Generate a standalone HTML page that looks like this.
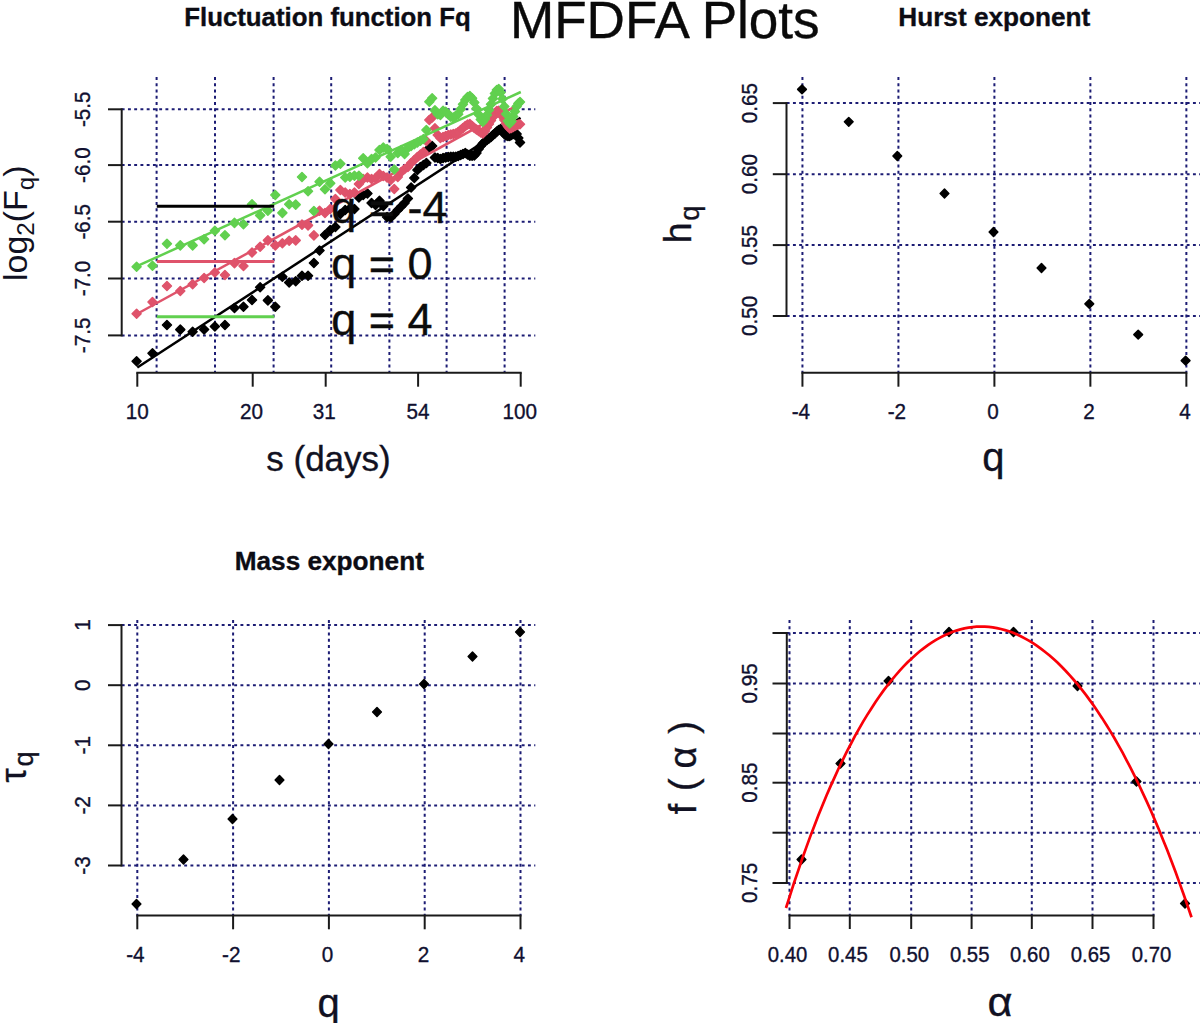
<!DOCTYPE html>
<html><head><meta charset="utf-8"><title>MFDFA Plots</title>
<style>
html,body{margin:0;padding:0;background:#fff;}
body{width:1200px;height:1023px;overflow:hidden;}
svg{display:block;font-family:"Liberation Sans",sans-serif;}
</style></head><body>
<svg width="1200" height="1023" viewBox="0 0 1200 1023">
<rect width="1200" height="1023" fill="#fff"/>
<g>
<line x1="156.60" y1="77.00" x2="156.60" y2="372.50" stroke="#1c1c74" stroke-width="2" stroke-dasharray="2.9 3.35"/>
<line x1="215.00" y1="77.00" x2="215.00" y2="372.50" stroke="#1c1c74" stroke-width="2" stroke-dasharray="2.9 3.35"/>
<line x1="273.60" y1="77.00" x2="273.60" y2="372.50" stroke="#1c1c74" stroke-width="2" stroke-dasharray="2.9 3.35"/>
<line x1="331.20" y1="77.00" x2="331.20" y2="372.50" stroke="#1c1c74" stroke-width="2" stroke-dasharray="2.9 3.35"/>
<line x1="389.40" y1="77.00" x2="389.40" y2="372.50" stroke="#1c1c74" stroke-width="2" stroke-dasharray="2.9 3.35"/>
<line x1="446.60" y1="77.00" x2="446.60" y2="372.50" stroke="#1c1c74" stroke-width="2" stroke-dasharray="2.9 3.35"/>
<line x1="504.60" y1="77.00" x2="504.60" y2="372.50" stroke="#1c1c74" stroke-width="2" stroke-dasharray="2.9 3.35"/>
<line x1="121.70" y1="109.30" x2="535.30" y2="109.30" stroke="#1c1c74" stroke-width="2" stroke-dasharray="2.9 3.35"/>
<line x1="121.70" y1="165.10" x2="535.30" y2="165.10" stroke="#1c1c74" stroke-width="2" stroke-dasharray="2.9 3.35"/>
<line x1="121.70" y1="221.70" x2="535.30" y2="221.70" stroke="#1c1c74" stroke-width="2" stroke-dasharray="2.9 3.35"/>
<line x1="121.70" y1="278.50" x2="535.30" y2="278.50" stroke="#1c1c74" stroke-width="2" stroke-dasharray="2.9 3.35"/>
<line x1="121.70" y1="335.40" x2="535.30" y2="335.40" stroke="#1c1c74" stroke-width="2" stroke-dasharray="2.9 3.35"/>
<path d="M132.10 361.25L136.60 356.75L141.10 361.25L136.60 365.75Z" fill="#000" stroke="#000" stroke-width="1.5" stroke-linejoin="round"/>
<path d="M147.97 353.30L152.47 348.80L156.97 353.30L152.47 357.80Z" fill="#000" stroke="#000" stroke-width="1.5" stroke-linejoin="round"/>
<path d="M162.46 325.00L166.96 320.50L171.46 325.00L166.96 329.50Z" fill="#000" stroke="#000" stroke-width="1.5" stroke-linejoin="round"/>
<path d="M175.79 329.60L180.29 325.10L184.79 329.60L180.29 334.10Z" fill="#000" stroke="#000" stroke-width="1.5" stroke-linejoin="round"/>
<path d="M188.13 331.70L192.63 327.20L197.13 331.70L192.63 336.20Z" fill="#000" stroke="#000" stroke-width="1.5" stroke-linejoin="round"/>
<path d="M199.61 329.50L204.11 325.00L208.61 329.50L204.11 334.00Z" fill="#000" stroke="#000" stroke-width="1.5" stroke-linejoin="round"/>
<path d="M210.36 326.50L214.86 322.00L219.36 326.50L214.86 331.00Z" fill="#000" stroke="#000" stroke-width="1.5" stroke-linejoin="round"/>
<path d="M220.45 325.00L224.95 320.50L229.45 325.00L224.95 329.50Z" fill="#000" stroke="#000" stroke-width="1.5" stroke-linejoin="round"/>
<path d="M229.97 308.00L234.47 303.50L238.97 308.00L234.47 312.50Z" fill="#000" stroke="#000" stroke-width="1.5" stroke-linejoin="round"/>
<path d="M238.97 306.70L243.47 302.20L247.97 306.70L243.47 311.20Z" fill="#000" stroke="#000" stroke-width="1.5" stroke-linejoin="round"/>
<path d="M247.51 300.00L252.01 295.50L256.51 300.00L252.01 304.50Z" fill="#000" stroke="#000" stroke-width="1.5" stroke-linejoin="round"/>
<path d="M255.64 287.30L260.14 282.80L264.64 287.30L260.14 291.80Z" fill="#000" stroke="#000" stroke-width="1.5" stroke-linejoin="round"/>
<path d="M263.38 300.40L267.88 295.90L272.38 300.40L267.88 304.90Z" fill="#000" stroke="#000" stroke-width="1.5" stroke-linejoin="round"/>
<path d="M270.79 306.70L275.29 302.20L279.79 306.70L275.29 311.20Z" fill="#000" stroke="#000" stroke-width="1.5" stroke-linejoin="round"/>
<path d="M277.87 276.70L282.37 272.20L286.87 276.70L282.37 281.20Z" fill="#000" stroke="#000" stroke-width="1.5" stroke-linejoin="round"/>
<path d="M284.67 282.50L289.17 278.00L293.67 282.50L289.17 287.00Z" fill="#000" stroke="#000" stroke-width="1.5" stroke-linejoin="round"/>
<path d="M291.20 281.25L295.70 276.75L300.20 281.25L295.70 285.75Z" fill="#000" stroke="#000" stroke-width="1.5" stroke-linejoin="round"/>
<path d="M297.48 275.80L301.98 271.30L306.48 275.80L301.98 280.30Z" fill="#000" stroke="#000" stroke-width="1.5" stroke-linejoin="round"/>
<path d="M303.54 275.80L308.04 271.30L312.54 275.80L308.04 280.30Z" fill="#000" stroke="#000" stroke-width="1.5" stroke-linejoin="round"/>
<path d="M309.38 263.00L313.88 258.50L318.38 263.00L313.88 267.50Z" fill="#000" stroke="#000" stroke-width="1.5" stroke-linejoin="round"/>
<path d="M315.03 250.50L319.53 246.00L324.03 250.50L319.53 255.00Z" fill="#000" stroke="#000" stroke-width="1.5" stroke-linejoin="round"/>
<path d="M320.49 235.00L324.99 230.50L329.49 235.00L324.99 239.50Z" fill="#000" stroke="#000" stroke-width="1.5" stroke-linejoin="round"/>
<path d="M325.77 230.00L330.27 225.50L334.77 230.00L330.27 234.50Z" fill="#000" stroke="#000" stroke-width="1.5" stroke-linejoin="round"/>
<path d="M330.90 227.00L335.40 222.50L339.90 227.00L335.40 231.50Z" fill="#000" stroke="#000" stroke-width="1.5" stroke-linejoin="round"/>
<path d="M335.87 214.00L340.37 209.50L344.87 214.00L340.37 218.50Z" fill="#000" stroke="#000" stroke-width="1.5" stroke-linejoin="round"/>
<path d="M340.70 210.00L345.20 205.50L349.70 210.00L345.20 214.50Z" fill="#000" stroke="#000" stroke-width="1.5" stroke-linejoin="round"/>
<path d="M345.39 208.50L349.89 204.00L354.39 208.50L349.89 213.00Z" fill="#000" stroke="#000" stroke-width="1.5" stroke-linejoin="round"/>
<path d="M349.95 209.00L354.45 204.50L358.95 209.00L354.45 213.50Z" fill="#000" stroke="#000" stroke-width="1.5" stroke-linejoin="round"/>
<path d="M354.39 197.50L358.89 193.00L363.39 197.50L358.89 202.00Z" fill="#000" stroke="#000" stroke-width="1.5" stroke-linejoin="round"/>
<path d="M358.71 195.00L363.21 190.50L367.71 195.00L363.21 199.50Z" fill="#000" stroke="#000" stroke-width="1.5" stroke-linejoin="round"/>
<path d="M362.93 193.50L367.43 189.00L371.93 193.50L367.43 198.00Z" fill="#000" stroke="#000" stroke-width="1.5" stroke-linejoin="round"/>
<path d="M367.04 203.00L371.54 198.50L376.04 203.00L371.54 207.50Z" fill="#000" stroke="#000" stroke-width="1.5" stroke-linejoin="round"/>
<path d="M371.05 205.00L375.55 200.50L380.05 205.00L375.55 209.50Z" fill="#000" stroke="#000" stroke-width="1.5" stroke-linejoin="round"/>
<path d="M374.97 200.80L379.47 196.30L383.97 200.80L379.47 205.30Z" fill="#000" stroke="#000" stroke-width="1.5" stroke-linejoin="round"/>
<path d="M378.80 206.00L383.30 201.50L387.80 206.00L383.30 210.50Z" fill="#000" stroke="#000" stroke-width="1.5" stroke-linejoin="round"/>
<path d="M382.54 217.00L387.04 212.50L391.54 217.00L387.04 221.50Z" fill="#000" stroke="#000" stroke-width="1.5" stroke-linejoin="round"/>
<path d="M386.20 217.50L390.70 213.00L395.20 217.50L390.70 222.00Z" fill="#000" stroke="#000" stroke-width="1.5" stroke-linejoin="round"/>
<path d="M389.78 214.00L394.28 209.50L398.78 214.00L394.28 218.50Z" fill="#000" stroke="#000" stroke-width="1.5" stroke-linejoin="round"/>
<path d="M393.29 210.00L397.79 205.50L402.29 210.00L397.79 214.50Z" fill="#000" stroke="#000" stroke-width="1.5" stroke-linejoin="round"/>
<path d="M396.72 206.50L401.22 202.00L405.72 206.50L401.22 211.00Z" fill="#000" stroke="#000" stroke-width="1.5" stroke-linejoin="round"/>
<path d="M400.09 203.00L404.59 198.50L409.09 203.00L404.59 207.50Z" fill="#000" stroke="#000" stroke-width="1.5" stroke-linejoin="round"/>
<path d="M403.38 198.50L407.88 194.00L412.38 198.50L407.88 203.00Z" fill="#000" stroke="#000" stroke-width="1.5" stroke-linejoin="round"/>
<path d="M406.62 187.50L411.12 183.00L415.62 187.50L411.12 192.00Z" fill="#000" stroke="#000" stroke-width="1.5" stroke-linejoin="round"/>
<path d="M409.79 178.00L414.29 173.50L418.79 178.00L414.29 182.50Z" fill="#000" stroke="#000" stroke-width="1.5" stroke-linejoin="round"/>
<path d="M412.90 170.00L417.40 165.50L421.90 170.00L417.40 174.50Z" fill="#000" stroke="#000" stroke-width="1.5" stroke-linejoin="round"/>
<path d="M415.96 167.00L420.46 162.50L424.96 167.00L420.46 171.50Z" fill="#000" stroke="#000" stroke-width="1.5" stroke-linejoin="round"/>
<path d="M418.96 165.00L423.46 160.50L427.96 165.00L423.46 169.50Z" fill="#000" stroke="#000" stroke-width="1.5" stroke-linejoin="round"/>
<path d="M421.90 163.00L426.40 158.50L430.90 163.00L426.40 167.50Z" fill="#000" stroke="#000" stroke-width="1.5" stroke-linejoin="round"/>
<path d="M424.80 148.00L429.30 143.50L433.80 148.00L429.30 152.50Z" fill="#000" stroke="#000" stroke-width="1.5" stroke-linejoin="round"/>
<path d="M427.64 146.00L432.14 141.50L436.64 146.00L432.14 150.50Z" fill="#000" stroke="#000" stroke-width="1.5" stroke-linejoin="round"/>
<path d="M430.44 157.50L434.94 153.00L439.44 157.50L434.94 162.00Z" fill="#000" stroke="#000" stroke-width="1.5" stroke-linejoin="round"/>
<path d="M433.20 158.00L437.70 153.50L442.20 158.00L437.70 162.50Z" fill="#000" stroke="#000" stroke-width="1.5" stroke-linejoin="round"/>
<path d="M435.90 159.00L440.40 154.50L444.90 159.00L440.40 163.50Z" fill="#000" stroke="#000" stroke-width="1.5" stroke-linejoin="round"/>
<path d="M438.57 158.00L443.07 153.50L447.57 158.00L443.07 162.50Z" fill="#000" stroke="#000" stroke-width="1.5" stroke-linejoin="round"/>
<path d="M441.19 157.50L445.69 153.00L450.19 157.50L445.69 162.00Z" fill="#000" stroke="#000" stroke-width="1.5" stroke-linejoin="round"/>
<path d="M443.77 157.00L448.27 152.50L452.77 157.00L448.27 161.50Z" fill="#000" stroke="#000" stroke-width="1.5" stroke-linejoin="round"/>
<path d="M446.31 156.70L450.81 152.20L455.31 156.70L450.81 161.20Z" fill="#000" stroke="#000" stroke-width="1.5" stroke-linejoin="round"/>
<path d="M448.82 156.70L453.32 152.20L457.82 156.70L453.32 161.20Z" fill="#000" stroke="#000" stroke-width="1.5" stroke-linejoin="round"/>
<path d="M451.28 156.70L455.78 152.20L460.28 156.70L455.78 161.20Z" fill="#000" stroke="#000" stroke-width="1.5" stroke-linejoin="round"/>
<path d="M453.71 156.00L458.21 151.50L462.71 156.00L458.21 160.50Z" fill="#000" stroke="#000" stroke-width="1.5" stroke-linejoin="round"/>
<path d="M456.11 155.00L460.61 150.50L465.11 155.00L460.61 159.50Z" fill="#000" stroke="#000" stroke-width="1.5" stroke-linejoin="round"/>
<path d="M458.47 154.00L462.97 149.50L467.47 154.00L462.97 158.50Z" fill="#000" stroke="#000" stroke-width="1.5" stroke-linejoin="round"/>
<path d="M460.80 153.00L465.30 148.50L469.80 153.00L465.30 157.50Z" fill="#000" stroke="#000" stroke-width="1.5" stroke-linejoin="round"/>
<path d="M463.10 154.50L467.60 150.00L472.10 154.50L467.60 159.00Z" fill="#000" stroke="#000" stroke-width="1.5" stroke-linejoin="round"/>
<path d="M465.36 155.80L469.86 151.30L474.36 155.80L469.86 160.30Z" fill="#000" stroke="#000" stroke-width="1.5" stroke-linejoin="round"/>
<path d="M467.60 155.60L472.10 151.10L476.60 155.60L472.10 160.10Z" fill="#000" stroke="#000" stroke-width="1.5" stroke-linejoin="round"/>
<path d="M469.80 155.40L474.30 150.90L478.80 155.40L474.30 159.90Z" fill="#000" stroke="#000" stroke-width="1.5" stroke-linejoin="round"/>
<path d="M471.98 153.00L476.48 148.50L480.98 153.00L476.48 157.50Z" fill="#000" stroke="#000" stroke-width="1.5" stroke-linejoin="round"/>
<path d="M474.13 149.00L478.63 144.50L483.13 149.00L478.63 153.50Z" fill="#000" stroke="#000" stroke-width="1.5" stroke-linejoin="round"/>
<path d="M476.25 146.00L480.75 141.50L485.25 146.00L480.75 150.50Z" fill="#000" stroke="#000" stroke-width="1.5" stroke-linejoin="round"/>
<path d="M478.34 143.50L482.84 139.00L487.34 143.50L482.84 148.00Z" fill="#000" stroke="#000" stroke-width="1.5" stroke-linejoin="round"/>
<path d="M480.41 141.50L484.91 137.00L489.41 141.50L484.91 146.00Z" fill="#000" stroke="#000" stroke-width="1.5" stroke-linejoin="round"/>
<path d="M482.46 140.00L486.96 135.50L491.46 140.00L486.96 144.50Z" fill="#000" stroke="#000" stroke-width="1.5" stroke-linejoin="round"/>
<path d="M484.47 138.50L488.97 134.00L493.47 138.50L488.97 143.00Z" fill="#000" stroke="#000" stroke-width="1.5" stroke-linejoin="round"/>
<path d="M486.47 137.00L490.97 132.50L495.47 137.00L490.97 141.50Z" fill="#000" stroke="#000" stroke-width="1.5" stroke-linejoin="round"/>
<path d="M488.44 135.00L492.94 130.50L497.44 135.00L492.94 139.50Z" fill="#000" stroke="#000" stroke-width="1.5" stroke-linejoin="round"/>
<path d="M490.39 133.50L494.89 129.00L499.39 133.50L494.89 138.00Z" fill="#000" stroke="#000" stroke-width="1.5" stroke-linejoin="round"/>
<path d="M492.31 131.50L496.81 127.00L501.31 131.50L496.81 136.00Z" fill="#000" stroke="#000" stroke-width="1.5" stroke-linejoin="round"/>
<path d="M494.21 130.00L498.71 125.50L503.21 130.00L498.71 134.50Z" fill="#000" stroke="#000" stroke-width="1.5" stroke-linejoin="round"/>
<path d="M496.10 129.00L500.60 124.50L505.10 129.00L500.60 133.50Z" fill="#000" stroke="#000" stroke-width="1.5" stroke-linejoin="round"/>
<path d="M497.96 131.50L502.46 127.00L506.96 131.50L502.46 136.00Z" fill="#000" stroke="#000" stroke-width="1.5" stroke-linejoin="round"/>
<path d="M499.80 134.00L504.30 129.50L508.80 134.00L504.30 138.50Z" fill="#000" stroke="#000" stroke-width="1.5" stroke-linejoin="round"/>
<path d="M501.62 135.50L506.12 131.00L510.62 135.50L506.12 140.00Z" fill="#000" stroke="#000" stroke-width="1.5" stroke-linejoin="round"/>
<path d="M503.42 136.00L507.92 131.50L512.42 136.00L507.92 140.50Z" fill="#000" stroke="#000" stroke-width="1.5" stroke-linejoin="round"/>
<path d="M505.20 136.00L509.70 131.50L514.20 136.00L509.70 140.50Z" fill="#000" stroke="#000" stroke-width="1.5" stroke-linejoin="round"/>
<path d="M506.96 135.00L511.46 130.50L515.96 135.00L511.46 139.50Z" fill="#000" stroke="#000" stroke-width="1.5" stroke-linejoin="round"/>
<path d="M508.70 134.00L513.20 129.50L517.70 134.00L513.20 138.50Z" fill="#000" stroke="#000" stroke-width="1.5" stroke-linejoin="round"/>
<path d="M510.43 133.50L514.93 129.00L519.43 133.50L514.93 138.00Z" fill="#000" stroke="#000" stroke-width="1.5" stroke-linejoin="round"/>
<path d="M512.14 134.00L516.64 129.50L521.14 134.00L516.64 138.50Z" fill="#000" stroke="#000" stroke-width="1.5" stroke-linejoin="round"/>
<path d="M513.83 138.00L518.33 133.50L522.83 138.00L518.33 142.50Z" fill="#000" stroke="#000" stroke-width="1.5" stroke-linejoin="round"/>
<path d="M515.50 142.50L520.00 138.00L524.50 142.50L520.00 147.00Z" fill="#000" stroke="#000" stroke-width="1.5" stroke-linejoin="round"/>
<line x1="137.30" y1="367.50" x2="520.50" y2="117.80" stroke="#000" stroke-width="2.5" />
<path d="M132.10 313.75L136.60 309.25L141.10 313.75L136.60 318.25Z" fill="#df536b" stroke="#df536b" stroke-width="1.5" stroke-linejoin="round"/>
<path d="M147.97 302.00L152.47 297.50L156.97 302.00L152.47 306.50Z" fill="#df536b" stroke="#df536b" stroke-width="1.5" stroke-linejoin="round"/>
<path d="M162.46 286.00L166.96 281.50L171.46 286.00L166.96 290.50Z" fill="#df536b" stroke="#df536b" stroke-width="1.5" stroke-linejoin="round"/>
<path d="M175.79 291.00L180.29 286.50L184.79 291.00L180.29 295.50Z" fill="#df536b" stroke="#df536b" stroke-width="1.5" stroke-linejoin="round"/>
<path d="M188.13 284.20L192.63 279.70L197.13 284.20L192.63 288.70Z" fill="#df536b" stroke="#df536b" stroke-width="1.5" stroke-linejoin="round"/>
<path d="M199.61 278.00L204.11 273.50L208.61 278.00L204.11 282.50Z" fill="#df536b" stroke="#df536b" stroke-width="1.5" stroke-linejoin="round"/>
<path d="M210.36 272.50L214.86 268.00L219.36 272.50L214.86 277.00Z" fill="#df536b" stroke="#df536b" stroke-width="1.5" stroke-linejoin="round"/>
<path d="M220.45 275.00L224.95 270.50L229.45 275.00L224.95 279.50Z" fill="#df536b" stroke="#df536b" stroke-width="1.5" stroke-linejoin="round"/>
<path d="M229.97 263.10L234.47 258.60L238.97 263.10L234.47 267.60Z" fill="#df536b" stroke="#df536b" stroke-width="1.5" stroke-linejoin="round"/>
<path d="M238.97 266.00L243.47 261.50L247.97 266.00L243.47 270.50Z" fill="#df536b" stroke="#df536b" stroke-width="1.5" stroke-linejoin="round"/>
<path d="M247.51 252.50L252.01 248.00L256.51 252.50L252.01 257.00Z" fill="#df536b" stroke="#df536b" stroke-width="1.5" stroke-linejoin="round"/>
<path d="M255.64 246.70L260.14 242.20L264.64 246.70L260.14 251.20Z" fill="#df536b" stroke="#df536b" stroke-width="1.5" stroke-linejoin="round"/>
<path d="M263.38 240.40L267.88 235.90L272.38 240.40L267.88 244.90Z" fill="#df536b" stroke="#df536b" stroke-width="1.5" stroke-linejoin="round"/>
<path d="M270.79 245.40L275.29 240.90L279.79 245.40L275.29 249.90Z" fill="#df536b" stroke="#df536b" stroke-width="1.5" stroke-linejoin="round"/>
<path d="M277.87 243.30L282.37 238.80L286.87 243.30L282.37 247.80Z" fill="#df536b" stroke="#df536b" stroke-width="1.5" stroke-linejoin="round"/>
<path d="M284.67 240.80L289.17 236.30L293.67 240.80L289.17 245.30Z" fill="#df536b" stroke="#df536b" stroke-width="1.5" stroke-linejoin="round"/>
<path d="M291.20 240.40L295.70 235.90L300.20 240.40L295.70 244.90Z" fill="#df536b" stroke="#df536b" stroke-width="1.5" stroke-linejoin="round"/>
<path d="M297.48 224.60L301.98 220.10L306.48 224.60L301.98 229.10Z" fill="#df536b" stroke="#df536b" stroke-width="1.5" stroke-linejoin="round"/>
<path d="M303.54 225.40L308.04 220.90L312.54 225.40L308.04 229.90Z" fill="#df536b" stroke="#df536b" stroke-width="1.5" stroke-linejoin="round"/>
<path d="M309.38 235.40L313.88 230.90L318.38 235.40L313.88 239.90Z" fill="#df536b" stroke="#df536b" stroke-width="1.5" stroke-linejoin="round"/>
<path d="M315.03 210.80L319.53 206.30L324.03 210.80L319.53 215.30Z" fill="#df536b" stroke="#df536b" stroke-width="1.5" stroke-linejoin="round"/>
<path d="M320.49 213.00L324.99 208.50L329.49 213.00L324.99 217.50Z" fill="#df536b" stroke="#df536b" stroke-width="1.5" stroke-linejoin="round"/>
<path d="M325.77 209.00L330.27 204.50L334.77 209.00L330.27 213.50Z" fill="#df536b" stroke="#df536b" stroke-width="1.5" stroke-linejoin="round"/>
<path d="M330.90 199.00L335.40 194.50L339.90 199.00L335.40 203.50Z" fill="#df536b" stroke="#df536b" stroke-width="1.5" stroke-linejoin="round"/>
<path d="M335.87 190.00L340.37 185.50L344.87 190.00L340.37 194.50Z" fill="#df536b" stroke="#df536b" stroke-width="1.5" stroke-linejoin="round"/>
<path d="M340.70 192.50L345.20 188.00L349.70 192.50L345.20 197.00Z" fill="#df536b" stroke="#df536b" stroke-width="1.5" stroke-linejoin="round"/>
<path d="M345.39 194.00L349.89 189.50L354.39 194.00L349.89 198.50Z" fill="#df536b" stroke="#df536b" stroke-width="1.5" stroke-linejoin="round"/>
<path d="M349.95 192.50L354.45 188.00L358.95 192.50L354.45 197.00Z" fill="#df536b" stroke="#df536b" stroke-width="1.5" stroke-linejoin="round"/>
<path d="M354.39 184.00L358.89 179.50L363.39 184.00L358.89 188.50Z" fill="#df536b" stroke="#df536b" stroke-width="1.5" stroke-linejoin="round"/>
<path d="M358.71 179.00L363.21 174.50L367.71 179.00L363.21 183.50Z" fill="#df536b" stroke="#df536b" stroke-width="1.5" stroke-linejoin="round"/>
<path d="M362.93 177.50L367.43 173.00L371.93 177.50L367.43 182.00Z" fill="#df536b" stroke="#df536b" stroke-width="1.5" stroke-linejoin="round"/>
<path d="M367.04 179.00L371.54 174.50L376.04 179.00L371.54 183.50Z" fill="#df536b" stroke="#df536b" stroke-width="1.5" stroke-linejoin="round"/>
<path d="M371.05 178.00L375.55 173.50L380.05 178.00L375.55 182.50Z" fill="#df536b" stroke="#df536b" stroke-width="1.5" stroke-linejoin="round"/>
<path d="M374.97 174.00L379.47 169.50L383.97 174.00L379.47 178.50Z" fill="#df536b" stroke="#df536b" stroke-width="1.5" stroke-linejoin="round"/>
<path d="M378.80 176.00L383.30 171.50L387.80 176.00L383.30 180.50Z" fill="#df536b" stroke="#df536b" stroke-width="1.5" stroke-linejoin="round"/>
<path d="M382.54 177.50L387.04 173.00L391.54 177.50L387.04 182.00Z" fill="#df536b" stroke="#df536b" stroke-width="1.5" stroke-linejoin="round"/>
<path d="M386.20 180.00L390.70 175.50L395.20 180.00L390.70 184.50Z" fill="#df536b" stroke="#df536b" stroke-width="1.5" stroke-linejoin="round"/>
<path d="M389.78 189.00L394.28 184.50L398.78 189.00L394.28 193.50Z" fill="#df536b" stroke="#df536b" stroke-width="1.5" stroke-linejoin="round"/>
<path d="M393.29 177.00L397.79 172.50L402.29 177.00L397.79 181.50Z" fill="#df536b" stroke="#df536b" stroke-width="1.5" stroke-linejoin="round"/>
<path d="M396.72 172.00L401.22 167.50L405.72 172.00L401.22 176.50Z" fill="#df536b" stroke="#df536b" stroke-width="1.5" stroke-linejoin="round"/>
<path d="M400.09 169.00L404.59 164.50L409.09 169.00L404.59 173.50Z" fill="#df536b" stroke="#df536b" stroke-width="1.5" stroke-linejoin="round"/>
<path d="M403.38 167.00L407.88 162.50L412.38 167.00L407.88 171.50Z" fill="#df536b" stroke="#df536b" stroke-width="1.5" stroke-linejoin="round"/>
<path d="M406.62 163.00L411.12 158.50L415.62 163.00L411.12 167.50Z" fill="#df536b" stroke="#df536b" stroke-width="1.5" stroke-linejoin="round"/>
<path d="M409.79 160.00L414.29 155.50L418.79 160.00L414.29 164.50Z" fill="#df536b" stroke="#df536b" stroke-width="1.5" stroke-linejoin="round"/>
<path d="M412.90 157.00L417.40 152.50L421.90 157.00L417.40 161.50Z" fill="#df536b" stroke="#df536b" stroke-width="1.5" stroke-linejoin="round"/>
<path d="M415.96 154.50L420.46 150.00L424.96 154.50L420.46 159.00Z" fill="#df536b" stroke="#df536b" stroke-width="1.5" stroke-linejoin="round"/>
<path d="M418.96 152.00L423.46 147.50L427.96 152.00L423.46 156.50Z" fill="#df536b" stroke="#df536b" stroke-width="1.5" stroke-linejoin="round"/>
<path d="M421.90 141.00L426.40 136.50L430.90 141.00L426.40 145.50Z" fill="#df536b" stroke="#df536b" stroke-width="1.5" stroke-linejoin="round"/>
<path d="M424.80 120.00L429.30 115.50L433.80 120.00L429.30 124.50Z" fill="#df536b" stroke="#df536b" stroke-width="1.5" stroke-linejoin="round"/>
<path d="M427.64 117.50L432.14 113.00L436.64 117.50L432.14 122.00Z" fill="#df536b" stroke="#df536b" stroke-width="1.5" stroke-linejoin="round"/>
<path d="M430.44 128.30L434.94 123.80L439.44 128.30L434.94 132.80Z" fill="#df536b" stroke="#df536b" stroke-width="1.5" stroke-linejoin="round"/>
<path d="M433.20 135.00L437.70 130.50L442.20 135.00L437.70 139.50Z" fill="#df536b" stroke="#df536b" stroke-width="1.5" stroke-linejoin="round"/>
<path d="M435.90 138.00L440.40 133.50L444.90 138.00L440.40 142.50Z" fill="#df536b" stroke="#df536b" stroke-width="1.5" stroke-linejoin="round"/>
<path d="M438.57 137.00L443.07 132.50L447.57 137.00L443.07 141.50Z" fill="#df536b" stroke="#df536b" stroke-width="1.5" stroke-linejoin="round"/>
<path d="M441.19 136.00L445.69 131.50L450.19 136.00L445.69 140.50Z" fill="#df536b" stroke="#df536b" stroke-width="1.5" stroke-linejoin="round"/>
<path d="M443.77 135.00L448.27 130.50L452.77 135.00L448.27 139.50Z" fill="#df536b" stroke="#df536b" stroke-width="1.5" stroke-linejoin="round"/>
<path d="M446.31 134.50L450.81 130.00L455.31 134.50L450.81 139.00Z" fill="#df536b" stroke="#df536b" stroke-width="1.5" stroke-linejoin="round"/>
<path d="M448.82 134.00L453.32 129.50L457.82 134.00L453.32 138.50Z" fill="#df536b" stroke="#df536b" stroke-width="1.5" stroke-linejoin="round"/>
<path d="M451.28 133.50L455.78 129.00L460.28 133.50L455.78 138.00Z" fill="#df536b" stroke="#df536b" stroke-width="1.5" stroke-linejoin="round"/>
<path d="M453.71 132.00L458.21 127.50L462.71 132.00L458.21 136.50Z" fill="#df536b" stroke="#df536b" stroke-width="1.5" stroke-linejoin="round"/>
<path d="M456.11 130.00L460.61 125.50L465.11 130.00L460.61 134.50Z" fill="#df536b" stroke="#df536b" stroke-width="1.5" stroke-linejoin="round"/>
<path d="M458.47 128.00L462.97 123.50L467.47 128.00L462.97 132.50Z" fill="#df536b" stroke="#df536b" stroke-width="1.5" stroke-linejoin="round"/>
<path d="M460.80 126.00L465.30 121.50L469.80 126.00L465.30 130.50Z" fill="#df536b" stroke="#df536b" stroke-width="1.5" stroke-linejoin="round"/>
<path d="M463.10 124.50L467.60 120.00L472.10 124.50L467.60 129.00Z" fill="#df536b" stroke="#df536b" stroke-width="1.5" stroke-linejoin="round"/>
<path d="M465.36 124.00L469.86 119.50L474.36 124.00L469.86 128.50Z" fill="#df536b" stroke="#df536b" stroke-width="1.5" stroke-linejoin="round"/>
<path d="M467.60 126.00L472.10 121.50L476.60 126.00L472.10 130.50Z" fill="#df536b" stroke="#df536b" stroke-width="1.5" stroke-linejoin="round"/>
<path d="M469.80 128.00L474.30 123.50L478.80 128.00L474.30 132.50Z" fill="#df536b" stroke="#df536b" stroke-width="1.5" stroke-linejoin="round"/>
<path d="M471.98 129.50L476.48 125.00L480.98 129.50L476.48 134.00Z" fill="#df536b" stroke="#df536b" stroke-width="1.5" stroke-linejoin="round"/>
<path d="M474.13 131.00L478.63 126.50L483.13 131.00L478.63 135.50Z" fill="#df536b" stroke="#df536b" stroke-width="1.5" stroke-linejoin="round"/>
<path d="M476.25 132.50L480.75 128.00L485.25 132.50L480.75 137.00Z" fill="#df536b" stroke="#df536b" stroke-width="1.5" stroke-linejoin="round"/>
<path d="M478.34 133.50L482.84 129.00L487.34 133.50L482.84 138.00Z" fill="#df536b" stroke="#df536b" stroke-width="1.5" stroke-linejoin="round"/>
<path d="M480.41 131.00L484.91 126.50L489.41 131.00L484.91 135.50Z" fill="#df536b" stroke="#df536b" stroke-width="1.5" stroke-linejoin="round"/>
<path d="M482.46 127.50L486.96 123.00L491.46 127.50L486.96 132.00Z" fill="#df536b" stroke="#df536b" stroke-width="1.5" stroke-linejoin="round"/>
<path d="M484.47 124.00L488.97 119.50L493.47 124.00L488.97 128.50Z" fill="#df536b" stroke="#df536b" stroke-width="1.5" stroke-linejoin="round"/>
<path d="M486.47 120.50L490.97 116.00L495.47 120.50L490.97 125.00Z" fill="#df536b" stroke="#df536b" stroke-width="1.5" stroke-linejoin="round"/>
<path d="M488.44 117.00L492.94 112.50L497.44 117.00L492.94 121.50Z" fill="#df536b" stroke="#df536b" stroke-width="1.5" stroke-linejoin="round"/>
<path d="M490.39 113.50L494.89 109.00L499.39 113.50L494.89 118.00Z" fill="#df536b" stroke="#df536b" stroke-width="1.5" stroke-linejoin="round"/>
<path d="M492.31 111.00L496.81 106.50L501.31 111.00L496.81 115.50Z" fill="#df536b" stroke="#df536b" stroke-width="1.5" stroke-linejoin="round"/>
<path d="M494.21 110.70L498.71 106.20L503.21 110.70L498.71 115.20Z" fill="#df536b" stroke="#df536b" stroke-width="1.5" stroke-linejoin="round"/>
<path d="M496.10 113.00L500.60 108.50L505.10 113.00L500.60 117.50Z" fill="#df536b" stroke="#df536b" stroke-width="1.5" stroke-linejoin="round"/>
<path d="M497.96 116.50L502.46 112.00L506.96 116.50L502.46 121.00Z" fill="#df536b" stroke="#df536b" stroke-width="1.5" stroke-linejoin="round"/>
<path d="M499.80 120.00L504.30 115.50L508.80 120.00L504.30 124.50Z" fill="#df536b" stroke="#df536b" stroke-width="1.5" stroke-linejoin="round"/>
<path d="M501.62 123.50L506.12 119.00L510.62 123.50L506.12 128.00Z" fill="#df536b" stroke="#df536b" stroke-width="1.5" stroke-linejoin="round"/>
<path d="M503.42 126.50L507.92 122.00L512.42 126.50L507.92 131.00Z" fill="#df536b" stroke="#df536b" stroke-width="1.5" stroke-linejoin="round"/>
<path d="M505.20 128.50L509.70 124.00L514.20 128.50L509.70 133.00Z" fill="#df536b" stroke="#df536b" stroke-width="1.5" stroke-linejoin="round"/>
<path d="M506.96 128.00L511.46 123.50L515.96 128.00L511.46 132.50Z" fill="#df536b" stroke="#df536b" stroke-width="1.5" stroke-linejoin="round"/>
<path d="M508.70 127.00L513.20 122.50L517.70 127.00L513.20 131.50Z" fill="#df536b" stroke="#df536b" stroke-width="1.5" stroke-linejoin="round"/>
<path d="M510.43 126.00L514.93 121.50L519.43 126.00L514.93 130.50Z" fill="#df536b" stroke="#df536b" stroke-width="1.5" stroke-linejoin="round"/>
<path d="M512.14 125.00L516.64 120.50L521.14 125.00L516.64 129.50Z" fill="#df536b" stroke="#df536b" stroke-width="1.5" stroke-linejoin="round"/>
<path d="M513.83 124.50L518.33 120.00L522.83 124.50L518.33 129.00Z" fill="#df536b" stroke="#df536b" stroke-width="1.5" stroke-linejoin="round"/>
<path d="M515.50 124.20L520.00 119.70L524.50 124.20L520.00 128.70Z" fill="#df536b" stroke="#df536b" stroke-width="1.5" stroke-linejoin="round"/>
<line x1="137.30" y1="313.75" x2="520.50" y2="103.50" stroke="#df536b" stroke-width="2.5" />
<path d="M132.10 266.70L136.60 262.20L141.10 266.70L136.60 271.20Z" fill="#61d04f" stroke="#61d04f" stroke-width="1.5" stroke-linejoin="round"/>
<path d="M147.97 265.80L152.47 261.30L156.97 265.80L152.47 270.30Z" fill="#61d04f" stroke="#61d04f" stroke-width="1.5" stroke-linejoin="round"/>
<path d="M162.46 243.75L166.96 239.25L171.46 243.75L166.96 248.25Z" fill="#61d04f" stroke="#61d04f" stroke-width="1.5" stroke-linejoin="round"/>
<path d="M175.79 245.40L180.29 240.90L184.79 245.40L180.29 249.90Z" fill="#61d04f" stroke="#61d04f" stroke-width="1.5" stroke-linejoin="round"/>
<path d="M188.13 245.40L192.63 240.90L197.13 245.40L192.63 249.90Z" fill="#61d04f" stroke="#61d04f" stroke-width="1.5" stroke-linejoin="round"/>
<path d="M199.61 239.20L204.11 234.70L208.61 239.20L204.11 243.70Z" fill="#61d04f" stroke="#61d04f" stroke-width="1.5" stroke-linejoin="round"/>
<path d="M210.36 230.80L214.86 226.30L219.36 230.80L214.86 235.30Z" fill="#61d04f" stroke="#61d04f" stroke-width="1.5" stroke-linejoin="round"/>
<path d="M220.45 235.20L224.95 230.70L229.45 235.20L224.95 239.70Z" fill="#61d04f" stroke="#61d04f" stroke-width="1.5" stroke-linejoin="round"/>
<path d="M229.97 222.90L234.47 218.40L238.97 222.90L234.47 227.40Z" fill="#61d04f" stroke="#61d04f" stroke-width="1.5" stroke-linejoin="round"/>
<path d="M238.97 224.20L243.47 219.70L247.97 224.20L243.47 228.70Z" fill="#61d04f" stroke="#61d04f" stroke-width="1.5" stroke-linejoin="round"/>
<path d="M247.51 204.20L252.01 199.70L256.51 204.20L252.01 208.70Z" fill="#61d04f" stroke="#61d04f" stroke-width="1.5" stroke-linejoin="round"/>
<path d="M255.64 215.40L260.14 210.90L264.64 215.40L260.14 219.90Z" fill="#61d04f" stroke="#61d04f" stroke-width="1.5" stroke-linejoin="round"/>
<path d="M263.38 210.80L267.88 206.30L272.38 210.80L267.88 215.30Z" fill="#61d04f" stroke="#61d04f" stroke-width="1.5" stroke-linejoin="round"/>
<path d="M270.79 195.00L275.29 190.50L279.79 195.00L275.29 199.50Z" fill="#61d04f" stroke="#61d04f" stroke-width="1.5" stroke-linejoin="round"/>
<path d="M277.87 212.90L282.37 208.40L286.87 212.90L282.37 217.40Z" fill="#61d04f" stroke="#61d04f" stroke-width="1.5" stroke-linejoin="round"/>
<path d="M284.67 204.20L289.17 199.70L293.67 204.20L289.17 208.70Z" fill="#61d04f" stroke="#61d04f" stroke-width="1.5" stroke-linejoin="round"/>
<path d="M291.20 204.60L295.70 200.10L300.20 204.60L295.70 209.10Z" fill="#61d04f" stroke="#61d04f" stroke-width="1.5" stroke-linejoin="round"/>
<path d="M297.48 177.00L301.98 172.50L306.48 177.00L301.98 181.50Z" fill="#61d04f" stroke="#61d04f" stroke-width="1.5" stroke-linejoin="round"/>
<path d="M303.54 191.25L308.04 186.75L312.54 191.25L308.04 195.75Z" fill="#61d04f" stroke="#61d04f" stroke-width="1.5" stroke-linejoin="round"/>
<path d="M309.38 211.00L313.88 206.50L318.38 211.00L313.88 215.50Z" fill="#61d04f" stroke="#61d04f" stroke-width="1.5" stroke-linejoin="round"/>
<path d="M315.03 181.70L319.53 177.20L324.03 181.70L319.53 186.20Z" fill="#61d04f" stroke="#61d04f" stroke-width="1.5" stroke-linejoin="round"/>
<path d="M320.49 189.20L324.99 184.70L329.49 189.20L324.99 193.70Z" fill="#61d04f" stroke="#61d04f" stroke-width="1.5" stroke-linejoin="round"/>
<path d="M325.77 183.30L330.27 178.80L334.77 183.30L330.27 187.80Z" fill="#61d04f" stroke="#61d04f" stroke-width="1.5" stroke-linejoin="round"/>
<path d="M330.90 165.50L335.40 161.00L339.90 165.50L335.40 170.00Z" fill="#61d04f" stroke="#61d04f" stroke-width="1.5" stroke-linejoin="round"/>
<path d="M335.87 163.75L340.37 159.25L344.87 163.75L340.37 168.25Z" fill="#61d04f" stroke="#61d04f" stroke-width="1.5" stroke-linejoin="round"/>
<path d="M340.70 177.50L345.20 173.00L349.70 177.50L345.20 182.00Z" fill="#61d04f" stroke="#61d04f" stroke-width="1.5" stroke-linejoin="round"/>
<path d="M345.39 176.70L349.89 172.20L354.39 176.70L349.89 181.20Z" fill="#61d04f" stroke="#61d04f" stroke-width="1.5" stroke-linejoin="round"/>
<path d="M349.95 175.80L354.45 171.30L358.95 175.80L354.45 180.30Z" fill="#61d04f" stroke="#61d04f" stroke-width="1.5" stroke-linejoin="round"/>
<path d="M354.39 175.80L358.89 171.30L363.39 175.80L358.89 180.30Z" fill="#61d04f" stroke="#61d04f" stroke-width="1.5" stroke-linejoin="round"/>
<path d="M358.71 158.30L363.21 153.80L367.71 158.30L363.21 162.80Z" fill="#61d04f" stroke="#61d04f" stroke-width="1.5" stroke-linejoin="round"/>
<path d="M362.93 163.30L367.43 158.80L371.93 163.30L367.43 167.80Z" fill="#61d04f" stroke="#61d04f" stroke-width="1.5" stroke-linejoin="round"/>
<path d="M367.04 159.00L371.54 154.50L376.04 159.00L371.54 163.50Z" fill="#61d04f" stroke="#61d04f" stroke-width="1.5" stroke-linejoin="round"/>
<path d="M371.05 157.50L375.55 153.00L380.05 157.50L375.55 162.00Z" fill="#61d04f" stroke="#61d04f" stroke-width="1.5" stroke-linejoin="round"/>
<path d="M374.97 150.00L379.47 145.50L383.97 150.00L379.47 154.50Z" fill="#61d04f" stroke="#61d04f" stroke-width="1.5" stroke-linejoin="round"/>
<path d="M378.80 147.50L383.30 143.00L387.80 147.50L383.30 152.00Z" fill="#61d04f" stroke="#61d04f" stroke-width="1.5" stroke-linejoin="round"/>
<path d="M382.54 149.00L387.04 144.50L391.54 149.00L387.04 153.50Z" fill="#61d04f" stroke="#61d04f" stroke-width="1.5" stroke-linejoin="round"/>
<path d="M386.20 156.70L390.70 152.20L395.20 156.70L390.70 161.20Z" fill="#61d04f" stroke="#61d04f" stroke-width="1.5" stroke-linejoin="round"/>
<path d="M389.78 169.50L394.28 165.00L398.78 169.50L394.28 174.00Z" fill="#61d04f" stroke="#61d04f" stroke-width="1.5" stroke-linejoin="round"/>
<path d="M393.29 153.00L397.79 148.50L402.29 153.00L397.79 157.50Z" fill="#61d04f" stroke="#61d04f" stroke-width="1.5" stroke-linejoin="round"/>
<path d="M396.72 150.00L401.22 145.50L405.72 150.00L401.22 154.50Z" fill="#61d04f" stroke="#61d04f" stroke-width="1.5" stroke-linejoin="round"/>
<path d="M400.09 154.00L404.59 149.50L409.09 154.00L404.59 158.50Z" fill="#61d04f" stroke="#61d04f" stroke-width="1.5" stroke-linejoin="round"/>
<path d="M403.38 148.00L407.88 143.50L412.38 148.00L407.88 152.50Z" fill="#61d04f" stroke="#61d04f" stroke-width="1.5" stroke-linejoin="round"/>
<path d="M406.62 146.00L411.12 141.50L415.62 146.00L411.12 150.50Z" fill="#61d04f" stroke="#61d04f" stroke-width="1.5" stroke-linejoin="round"/>
<path d="M409.79 144.20L414.29 139.70L418.79 144.20L414.29 148.70Z" fill="#61d04f" stroke="#61d04f" stroke-width="1.5" stroke-linejoin="round"/>
<path d="M412.90 142.50L417.40 138.00L421.90 142.50L417.40 147.00Z" fill="#61d04f" stroke="#61d04f" stroke-width="1.5" stroke-linejoin="round"/>
<path d="M415.96 140.80L420.46 136.30L424.96 140.80L420.46 145.30Z" fill="#61d04f" stroke="#61d04f" stroke-width="1.5" stroke-linejoin="round"/>
<path d="M418.96 139.00L423.46 134.50L427.96 139.00L423.46 143.50Z" fill="#61d04f" stroke="#61d04f" stroke-width="1.5" stroke-linejoin="round"/>
<path d="M421.90 130.00L426.40 125.50L430.90 130.00L426.40 134.50Z" fill="#61d04f" stroke="#61d04f" stroke-width="1.5" stroke-linejoin="round"/>
<path d="M424.80 101.70L429.30 97.20L433.80 101.70L429.30 106.20Z" fill="#61d04f" stroke="#61d04f" stroke-width="1.5" stroke-linejoin="round"/>
<path d="M427.64 98.30L432.14 93.80L436.64 98.30L432.14 102.80Z" fill="#61d04f" stroke="#61d04f" stroke-width="1.5" stroke-linejoin="round"/>
<path d="M430.44 110.40L434.94 105.90L439.44 110.40L434.94 114.90Z" fill="#61d04f" stroke="#61d04f" stroke-width="1.5" stroke-linejoin="round"/>
<path d="M433.20 114.20L437.70 109.70L442.20 114.20L437.70 118.70Z" fill="#61d04f" stroke="#61d04f" stroke-width="1.5" stroke-linejoin="round"/>
<path d="M435.90 115.00L440.40 110.50L444.90 115.00L440.40 119.50Z" fill="#61d04f" stroke="#61d04f" stroke-width="1.5" stroke-linejoin="round"/>
<path d="M438.57 110.80L443.07 106.30L447.57 110.80L443.07 115.30Z" fill="#61d04f" stroke="#61d04f" stroke-width="1.5" stroke-linejoin="round"/>
<path d="M441.19 111.70L445.69 107.20L450.19 111.70L445.69 116.20Z" fill="#61d04f" stroke="#61d04f" stroke-width="1.5" stroke-linejoin="round"/>
<path d="M443.77 114.20L448.27 109.70L452.77 114.20L448.27 118.70Z" fill="#61d04f" stroke="#61d04f" stroke-width="1.5" stroke-linejoin="round"/>
<path d="M446.31 116.70L450.81 112.20L455.31 116.70L450.81 121.20Z" fill="#61d04f" stroke="#61d04f" stroke-width="1.5" stroke-linejoin="round"/>
<path d="M448.82 117.50L453.32 113.00L457.82 117.50L453.32 122.00Z" fill="#61d04f" stroke="#61d04f" stroke-width="1.5" stroke-linejoin="round"/>
<path d="M451.28 115.80L455.78 111.30L460.28 115.80L455.78 120.30Z" fill="#61d04f" stroke="#61d04f" stroke-width="1.5" stroke-linejoin="round"/>
<path d="M453.71 114.20L458.21 109.70L462.71 114.20L458.21 118.70Z" fill="#61d04f" stroke="#61d04f" stroke-width="1.5" stroke-linejoin="round"/>
<path d="M456.11 109.20L460.61 104.70L465.11 109.20L460.61 113.70Z" fill="#61d04f" stroke="#61d04f" stroke-width="1.5" stroke-linejoin="round"/>
<path d="M458.47 104.20L462.97 99.70L467.47 104.20L462.97 108.70Z" fill="#61d04f" stroke="#61d04f" stroke-width="1.5" stroke-linejoin="round"/>
<path d="M460.80 100.00L465.30 95.50L469.80 100.00L465.30 104.50Z" fill="#61d04f" stroke="#61d04f" stroke-width="1.5" stroke-linejoin="round"/>
<path d="M463.10 97.00L467.60 92.50L472.10 97.00L467.60 101.50Z" fill="#61d04f" stroke="#61d04f" stroke-width="1.5" stroke-linejoin="round"/>
<path d="M465.36 96.00L469.86 91.50L474.36 96.00L469.86 100.50Z" fill="#61d04f" stroke="#61d04f" stroke-width="1.5" stroke-linejoin="round"/>
<path d="M467.60 98.30L472.10 93.80L476.60 98.30L472.10 102.80Z" fill="#61d04f" stroke="#61d04f" stroke-width="1.5" stroke-linejoin="round"/>
<path d="M469.80 102.50L474.30 98.00L478.80 102.50L474.30 107.00Z" fill="#61d04f" stroke="#61d04f" stroke-width="1.5" stroke-linejoin="round"/>
<path d="M471.98 108.50L476.48 104.00L480.98 108.50L476.48 113.00Z" fill="#61d04f" stroke="#61d04f" stroke-width="1.5" stroke-linejoin="round"/>
<path d="M474.13 114.50L478.63 110.00L483.13 114.50L478.63 119.00Z" fill="#61d04f" stroke="#61d04f" stroke-width="1.5" stroke-linejoin="round"/>
<path d="M476.25 119.50L480.75 115.00L485.25 119.50L480.75 124.00Z" fill="#61d04f" stroke="#61d04f" stroke-width="1.5" stroke-linejoin="round"/>
<path d="M478.34 121.80L482.84 117.30L487.34 121.80L482.84 126.30Z" fill="#61d04f" stroke="#61d04f" stroke-width="1.5" stroke-linejoin="round"/>
<path d="M480.41 119.00L484.91 114.50L489.41 119.00L484.91 123.50Z" fill="#61d04f" stroke="#61d04f" stroke-width="1.5" stroke-linejoin="round"/>
<path d="M482.46 115.00L486.96 110.50L491.46 115.00L486.96 119.50Z" fill="#61d04f" stroke="#61d04f" stroke-width="1.5" stroke-linejoin="round"/>
<path d="M484.47 110.00L488.97 105.50L493.47 110.00L488.97 114.50Z" fill="#61d04f" stroke="#61d04f" stroke-width="1.5" stroke-linejoin="round"/>
<path d="M486.47 104.20L490.97 99.70L495.47 104.20L490.97 108.70Z" fill="#61d04f" stroke="#61d04f" stroke-width="1.5" stroke-linejoin="round"/>
<path d="M488.44 98.50L492.94 94.00L497.44 98.50L492.94 103.00Z" fill="#61d04f" stroke="#61d04f" stroke-width="1.5" stroke-linejoin="round"/>
<path d="M490.39 93.50L494.89 89.00L499.39 93.50L494.89 98.00Z" fill="#61d04f" stroke="#61d04f" stroke-width="1.5" stroke-linejoin="round"/>
<path d="M492.31 90.00L496.81 85.50L501.31 90.00L496.81 94.50Z" fill="#61d04f" stroke="#61d04f" stroke-width="1.5" stroke-linejoin="round"/>
<path d="M494.21 89.00L498.71 84.50L503.21 89.00L498.71 93.50Z" fill="#61d04f" stroke="#61d04f" stroke-width="1.5" stroke-linejoin="round"/>
<path d="M496.10 92.50L500.60 88.00L505.10 92.50L500.60 97.00Z" fill="#61d04f" stroke="#61d04f" stroke-width="1.5" stroke-linejoin="round"/>
<path d="M497.96 99.00L502.46 94.50L506.96 99.00L502.46 103.50Z" fill="#61d04f" stroke="#61d04f" stroke-width="1.5" stroke-linejoin="round"/>
<path d="M499.80 106.50L504.30 102.00L508.80 106.50L504.30 111.00Z" fill="#61d04f" stroke="#61d04f" stroke-width="1.5" stroke-linejoin="round"/>
<path d="M501.62 114.00L506.12 109.50L510.62 114.00L506.12 118.50Z" fill="#61d04f" stroke="#61d04f" stroke-width="1.5" stroke-linejoin="round"/>
<path d="M503.42 121.00L507.92 116.50L512.42 121.00L507.92 125.50Z" fill="#61d04f" stroke="#61d04f" stroke-width="1.5" stroke-linejoin="round"/>
<path d="M505.20 123.50L509.70 119.00L514.20 123.50L509.70 128.00Z" fill="#61d04f" stroke="#61d04f" stroke-width="1.5" stroke-linejoin="round"/>
<path d="M506.96 121.50L511.46 117.00L515.96 121.50L511.46 126.00Z" fill="#61d04f" stroke="#61d04f" stroke-width="1.5" stroke-linejoin="round"/>
<path d="M508.70 116.50L513.20 112.00L517.70 116.50L513.20 121.00Z" fill="#61d04f" stroke="#61d04f" stroke-width="1.5" stroke-linejoin="round"/>
<path d="M510.43 111.50L514.93 107.00L519.43 111.50L514.93 116.00Z" fill="#61d04f" stroke="#61d04f" stroke-width="1.5" stroke-linejoin="round"/>
<path d="M512.14 106.50L516.64 102.00L521.14 106.50L516.64 111.00Z" fill="#61d04f" stroke="#61d04f" stroke-width="1.5" stroke-linejoin="round"/>
<path d="M513.83 103.50L518.33 99.00L522.83 103.50L518.33 108.00Z" fill="#61d04f" stroke="#61d04f" stroke-width="1.5" stroke-linejoin="round"/>
<path d="M515.50 102.00L520.00 97.50L524.50 102.00L520.00 106.50Z" fill="#61d04f" stroke="#61d04f" stroke-width="1.5" stroke-linejoin="round"/>
<line x1="137.00" y1="266.20" x2="520.80" y2="92.00" stroke="#61d04f" stroke-width="2.5" />
<line x1="156.80" y1="206.20" x2="274.20" y2="206.20" stroke="#000" stroke-width="3" />
<line x1="156.80" y1="261.40" x2="274.20" y2="261.40" stroke="#df536b" stroke-width="3" />
<line x1="156.80" y1="316.80" x2="274.20" y2="316.80" stroke="#61d04f" stroke-width="3" />
<text transform="translate(331.30 223.00)" font-size="45" text-anchor="start" font-weight="normal" fill="#0c0c0c" stroke="#0c0c0c" stroke-width="0.35" >q = -4</text>
<text transform="translate(331.30 278.90)" font-size="45" text-anchor="start" font-weight="normal" fill="#0c0c0c" stroke="#0c0c0c" stroke-width="0.35" >q = 0</text>
<text transform="translate(331.30 335.00)" font-size="45" text-anchor="start" font-weight="normal" fill="#0c0c0c" stroke="#0c0c0c" stroke-width="0.35" >q = 4</text>
<line x1="121.70" y1="108.30" x2="121.70" y2="336.40" stroke="#1a1a1a" stroke-width="2" />
<line x1="108.00" y1="109.30" x2="121.70" y2="109.30" stroke="#1a1a1a" stroke-width="2" />
<line x1="108.00" y1="165.10" x2="121.70" y2="165.10" stroke="#1a1a1a" stroke-width="2" />
<line x1="108.00" y1="221.70" x2="121.70" y2="221.70" stroke="#1a1a1a" stroke-width="2" />
<line x1="108.00" y1="278.50" x2="121.70" y2="278.50" stroke="#1a1a1a" stroke-width="2" />
<line x1="108.00" y1="335.40" x2="121.70" y2="335.40" stroke="#1a1a1a" stroke-width="2" />
<line x1="136.30" y1="372.70" x2="521.70" y2="372.70" stroke="#1a1a1a" stroke-width="2" />
<line x1="137.30" y1="372.70" x2="137.30" y2="386.70" stroke="#1a1a1a" stroke-width="2" />
<text transform="translate(137.20 418.50) scale(0.94 1)" font-size="22" text-anchor="middle" font-weight="normal" fill="#101030" stroke="#101030" stroke-width="0.35" >10</text>
<line x1="252.71" y1="372.70" x2="252.71" y2="386.70" stroke="#1a1a1a" stroke-width="2" />
<text transform="translate(251.41 418.50) scale(0.94 1)" font-size="22" text-anchor="middle" font-weight="normal" fill="#101030" stroke="#101030" stroke-width="0.35" >20</text>
<line x1="325.69" y1="372.70" x2="325.69" y2="386.70" stroke="#1a1a1a" stroke-width="2" />
<text transform="translate(324.29 418.50) scale(0.94 1)" font-size="22" text-anchor="middle" font-weight="normal" fill="#101030" stroke="#101030" stroke-width="0.35" >31</text>
<line x1="418.10" y1="372.70" x2="418.10" y2="386.70" stroke="#1a1a1a" stroke-width="2" />
<text transform="translate(417.90 418.50) scale(0.94 1)" font-size="22" text-anchor="middle" font-weight="normal" fill="#101030" stroke="#101030" stroke-width="0.35" >54</text>
<line x1="520.70" y1="372.70" x2="520.70" y2="386.70" stroke="#1a1a1a" stroke-width="2" />
<text transform="translate(519.70 418.50) scale(0.94 1)" font-size="22" text-anchor="middle" font-weight="normal" fill="#101030" stroke="#101030" stroke-width="0.35" >100</text>
<text transform="translate(90.30 109.30) rotate(-90) scale(0.94 1)" font-size="22" text-anchor="middle" font-weight="normal" fill="#101030" stroke="#101030" stroke-width="0.35" >-5.5</text>
<text transform="translate(90.30 165.10) rotate(-90) scale(0.94 1)" font-size="22" text-anchor="middle" font-weight="normal" fill="#101030" stroke="#101030" stroke-width="0.35" >-6.0</text>
<text transform="translate(90.30 221.70) rotate(-90) scale(0.94 1)" font-size="22" text-anchor="middle" font-weight="normal" fill="#101030" stroke="#101030" stroke-width="0.35" >-6.5</text>
<text transform="translate(90.30 278.50) rotate(-90) scale(0.94 1)" font-size="22" text-anchor="middle" font-weight="normal" fill="#101030" stroke="#101030" stroke-width="0.35" >-7.0</text>
<text transform="translate(90.30 335.40) rotate(-90) scale(0.94 1)" font-size="22" text-anchor="middle" font-weight="normal" fill="#101030" stroke="#101030" stroke-width="0.35" >-7.5</text>
<text transform="translate(328.50 471.00)" font-size="35" text-anchor="middle" font-weight="normal" fill="#111122" stroke="#111122" stroke-width="0.35" >s (days)</text>
<text transform="translate(27.3 281) rotate(-90)" font-size="34" fill="#111122">log<tspan font-size="24" dy="7">2</tspan><tspan dy="-7">(F</tspan><tspan font-size="24" dy="7">q</tspan><tspan dy="-7">)</tspan></text>
<text transform="translate(327.50 26.30)" font-size="25.8" text-anchor="middle" font-weight="bold" fill="#0c0c14" stroke="#0c0c14" stroke-width="0.35" >Fluctuation function Fq</text>
<text transform="translate(664.80 38.00) scale(1.025 1)" font-size="51.8" text-anchor="middle" font-weight="normal" fill="#0a0a0a" stroke="#0a0a0a" stroke-width="0.35" >MFDFA Plots</text>
<text transform="translate(994.30 26.30)" font-size="26.2" text-anchor="middle" font-weight="bold" fill="#0c0c14" stroke="#0c0c14" stroke-width="0.35" >Hurst exponent</text>
<text transform="translate(329.30 570.30)" font-size="26.2" text-anchor="middle" font-weight="bold" fill="#0c0c14" stroke="#0c0c14" stroke-width="0.35" >Mass exponent</text>
<line x1="802.44" y1="77.00" x2="802.44" y2="372.50" stroke="#1c1c74" stroke-width="2" stroke-dasharray="2.9 3.35"/>
<line x1="898.42" y1="77.00" x2="898.42" y2="372.50" stroke="#1c1c74" stroke-width="2" stroke-dasharray="2.9 3.35"/>
<line x1="994.40" y1="77.00" x2="994.40" y2="372.50" stroke="#1c1c74" stroke-width="2" stroke-dasharray="2.9 3.35"/>
<line x1="1090.38" y1="77.00" x2="1090.38" y2="372.50" stroke="#1c1c74" stroke-width="2" stroke-dasharray="2.9 3.35"/>
<line x1="1186.36" y1="77.00" x2="1186.36" y2="372.50" stroke="#1c1c74" stroke-width="2" stroke-dasharray="2.9 3.35"/>
<line x1="786.70" y1="103.10" x2="1200.00" y2="103.10" stroke="#1c1c74" stroke-width="2" stroke-dasharray="2.9 3.35"/>
<line x1="786.70" y1="174.20" x2="1200.00" y2="174.20" stroke="#1c1c74" stroke-width="2" stroke-dasharray="2.9 3.35"/>
<line x1="786.70" y1="245.10" x2="1200.00" y2="245.10" stroke="#1c1c74" stroke-width="2" stroke-dasharray="2.9 3.35"/>
<line x1="786.70" y1="316.00" x2="1200.00" y2="316.00" stroke="#1c1c74" stroke-width="2" stroke-dasharray="2.9 3.35"/>
<path d="M797.65 89.40L802.00 85.05L806.35 89.40L802.00 93.75Z" fill="#000" stroke="#000" stroke-width="1.5" stroke-linejoin="round"/>
<path d="M844.40 121.80L848.75 117.45L853.10 121.80L848.75 126.15Z" fill="#000" stroke="#000" stroke-width="1.5" stroke-linejoin="round"/>
<path d="M892.95 156.00L897.30 151.65L901.65 156.00L897.30 160.35Z" fill="#000" stroke="#000" stroke-width="1.5" stroke-linejoin="round"/>
<path d="M940.15 193.50L944.50 189.15L948.85 193.50L944.50 197.85Z" fill="#000" stroke="#000" stroke-width="1.5" stroke-linejoin="round"/>
<path d="M989.15 232.00L993.50 227.65L997.85 232.00L993.50 236.35Z" fill="#000" stroke="#000" stroke-width="1.5" stroke-linejoin="round"/>
<path d="M1037.15 268.00L1041.50 263.65L1045.85 268.00L1041.50 272.35Z" fill="#000" stroke="#000" stroke-width="1.5" stroke-linejoin="round"/>
<path d="M1084.95 303.90L1089.30 299.55L1093.65 303.90L1089.30 308.25Z" fill="#000" stroke="#000" stroke-width="1.5" stroke-linejoin="round"/>
<path d="M1133.85 334.60L1138.20 330.25L1142.55 334.60L1138.20 338.95Z" fill="#000" stroke="#000" stroke-width="1.5" stroke-linejoin="round"/>
<path d="M1181.25 360.60L1185.60 356.25L1189.95 360.60L1185.60 364.95Z" fill="#000" stroke="#000" stroke-width="1.5" stroke-linejoin="round"/>
<line x1="786.50" y1="102.10" x2="786.50" y2="317.00" stroke="#1a1a1a" stroke-width="2" />
<line x1="772.80" y1="103.10" x2="786.50" y2="103.10" stroke="#1a1a1a" stroke-width="2" />
<text transform="translate(757.00 103.10) rotate(-90) scale(0.94 1)" font-size="22" text-anchor="middle" font-weight="normal" fill="#101030" stroke="#101030" stroke-width="0.35" >0.65</text>
<line x1="772.80" y1="174.20" x2="786.50" y2="174.20" stroke="#1a1a1a" stroke-width="2" />
<text transform="translate(757.00 174.20) rotate(-90) scale(0.94 1)" font-size="22" text-anchor="middle" font-weight="normal" fill="#101030" stroke="#101030" stroke-width="0.35" >0.60</text>
<line x1="772.80" y1="245.10" x2="786.50" y2="245.10" stroke="#1a1a1a" stroke-width="2" />
<text transform="translate(757.00 245.10) rotate(-90) scale(0.94 1)" font-size="22" text-anchor="middle" font-weight="normal" fill="#101030" stroke="#101030" stroke-width="0.35" >0.55</text>
<line x1="772.80" y1="316.00" x2="786.50" y2="316.00" stroke="#1a1a1a" stroke-width="2" />
<text transform="translate(757.00 316.00) rotate(-90) scale(0.94 1)" font-size="22" text-anchor="middle" font-weight="normal" fill="#101030" stroke="#101030" stroke-width="0.35" >0.50</text>
<line x1="801.40" y1="372.70" x2="1187.30" y2="372.70" stroke="#1a1a1a" stroke-width="2" />
<line x1="802.44" y1="372.70" x2="802.44" y2="386.70" stroke="#1a1a1a" stroke-width="2" />
<text transform="translate(800.84 418.50) scale(0.94 1)" font-size="22" text-anchor="middle" font-weight="normal" fill="#101030" stroke="#101030" stroke-width="0.35" >-4</text>
<line x1="898.42" y1="372.70" x2="898.42" y2="386.70" stroke="#1a1a1a" stroke-width="2" />
<text transform="translate(896.82 418.50) scale(0.94 1)" font-size="22" text-anchor="middle" font-weight="normal" fill="#101030" stroke="#101030" stroke-width="0.35" >-2</text>
<line x1="994.40" y1="372.70" x2="994.40" y2="386.70" stroke="#1a1a1a" stroke-width="2" />
<text transform="translate(993.10 418.50) scale(0.94 1)" font-size="22" text-anchor="middle" font-weight="normal" fill="#101030" stroke="#101030" stroke-width="0.35" >0</text>
<line x1="1090.38" y1="372.70" x2="1090.38" y2="386.70" stroke="#1a1a1a" stroke-width="2" />
<text transform="translate(1089.08 418.50) scale(0.94 1)" font-size="22" text-anchor="middle" font-weight="normal" fill="#101030" stroke="#101030" stroke-width="0.35" >2</text>
<line x1="1186.36" y1="372.70" x2="1186.36" y2="386.70" stroke="#1a1a1a" stroke-width="2" />
<text transform="translate(1185.06 418.50) scale(0.94 1)" font-size="22" text-anchor="middle" font-weight="normal" fill="#101030" stroke="#101030" stroke-width="0.35" >4</text>
<text transform="translate(993.30 470.60)" font-size="40" text-anchor="middle" font-weight="normal" fill="#111122" stroke="#111122" stroke-width="0.35" >q</text>
<text transform="translate(691.10 243.60) rotate(-90)" font-size="38" text-anchor="start" font-weight="normal" fill="#111122" stroke="#111122" stroke-width="0.35" >h</text>
<text transform="translate(698.60 220.80) rotate(-90)" font-size="27" text-anchor="start" font-weight="normal" fill="#111122" stroke="#111122" stroke-width="0.35" >q</text>
<line x1="137.30" y1="620.00" x2="137.30" y2="915.50" stroke="#1c1c74" stroke-width="2" stroke-dasharray="2.9 3.35"/>
<line x1="233.10" y1="620.00" x2="233.10" y2="915.50" stroke="#1c1c74" stroke-width="2" stroke-dasharray="2.9 3.35"/>
<line x1="328.90" y1="620.00" x2="328.90" y2="915.50" stroke="#1c1c74" stroke-width="2" stroke-dasharray="2.9 3.35"/>
<line x1="424.70" y1="620.00" x2="424.70" y2="915.50" stroke="#1c1c74" stroke-width="2" stroke-dasharray="2.9 3.35"/>
<line x1="520.50" y1="620.00" x2="520.50" y2="915.50" stroke="#1c1c74" stroke-width="2" stroke-dasharray="2.9 3.35"/>
<line x1="121.70" y1="625.10" x2="535.30" y2="625.10" stroke="#1c1c74" stroke-width="2" stroke-dasharray="2.9 3.35"/>
<line x1="121.70" y1="685.20" x2="535.30" y2="685.20" stroke="#1c1c74" stroke-width="2" stroke-dasharray="2.9 3.35"/>
<line x1="121.70" y1="745.30" x2="535.30" y2="745.30" stroke="#1c1c74" stroke-width="2" stroke-dasharray="2.9 3.35"/>
<line x1="121.70" y1="805.40" x2="535.30" y2="805.40" stroke="#1c1c74" stroke-width="2" stroke-dasharray="2.9 3.35"/>
<line x1="121.70" y1="865.50" x2="535.30" y2="865.50" stroke="#1c1c74" stroke-width="2" stroke-dasharray="2.9 3.35"/>
<path d="M132.15 904.00L136.50 899.65L140.85 904.00L136.50 908.35Z" fill="#000" stroke="#000" stroke-width="1.5" stroke-linejoin="round"/>
<path d="M179.15 859.50L183.50 855.15L187.85 859.50L183.50 863.85Z" fill="#000" stroke="#000" stroke-width="1.5" stroke-linejoin="round"/>
<path d="M228.15 819.00L232.50 814.65L236.85 819.00L232.50 823.35Z" fill="#000" stroke="#000" stroke-width="1.5" stroke-linejoin="round"/>
<path d="M275.15 780.00L279.50 775.65L283.85 780.00L279.50 784.35Z" fill="#000" stroke="#000" stroke-width="1.5" stroke-linejoin="round"/>
<path d="M324.15 744.00L328.50 739.65L332.85 744.00L328.50 748.35Z" fill="#000" stroke="#000" stroke-width="1.5" stroke-linejoin="round"/>
<path d="M372.65 712.00L377.00 707.65L381.35 712.00L377.00 716.35Z" fill="#000" stroke="#000" stroke-width="1.5" stroke-linejoin="round"/>
<path d="M419.65 684.00L424.00 679.65L428.35 684.00L424.00 688.35Z" fill="#000" stroke="#000" stroke-width="1.5" stroke-linejoin="round"/>
<path d="M468.15 656.50L472.50 652.15L476.85 656.50L472.50 660.85Z" fill="#000" stroke="#000" stroke-width="1.5" stroke-linejoin="round"/>
<path d="M515.65 632.00L520.00 627.65L524.35 632.00L520.00 636.35Z" fill="#000" stroke="#000" stroke-width="1.5" stroke-linejoin="round"/>
<line x1="121.50" y1="624.10" x2="121.50" y2="866.50" stroke="#1a1a1a" stroke-width="2" />
<line x1="108.00" y1="625.10" x2="121.70" y2="625.10" stroke="#1a1a1a" stroke-width="2" />
<text transform="translate(90.30 625.10) rotate(-90) scale(0.94 1)" font-size="22" text-anchor="middle" font-weight="normal" fill="#101030" stroke="#101030" stroke-width="0.35" >1</text>
<line x1="108.00" y1="685.20" x2="121.70" y2="685.20" stroke="#1a1a1a" stroke-width="2" />
<text transform="translate(90.30 685.20) rotate(-90) scale(0.94 1)" font-size="22" text-anchor="middle" font-weight="normal" fill="#101030" stroke="#101030" stroke-width="0.35" >0</text>
<line x1="108.00" y1="745.30" x2="121.70" y2="745.30" stroke="#1a1a1a" stroke-width="2" />
<text transform="translate(90.30 745.30) rotate(-90) scale(0.94 1)" font-size="22" text-anchor="middle" font-weight="normal" fill="#101030" stroke="#101030" stroke-width="0.35" >-1</text>
<line x1="108.00" y1="805.40" x2="121.70" y2="805.40" stroke="#1a1a1a" stroke-width="2" />
<text transform="translate(90.30 805.40) rotate(-90) scale(0.94 1)" font-size="22" text-anchor="middle" font-weight="normal" fill="#101030" stroke="#101030" stroke-width="0.35" >-2</text>
<line x1="108.00" y1="865.50" x2="121.70" y2="865.50" stroke="#1a1a1a" stroke-width="2" />
<text transform="translate(90.30 865.50) rotate(-90) scale(0.94 1)" font-size="22" text-anchor="middle" font-weight="normal" fill="#101030" stroke="#101030" stroke-width="0.35" >-3</text>
<line x1="136.30" y1="915.40" x2="521.50" y2="915.40" stroke="#1a1a1a" stroke-width="2" />
<line x1="137.30" y1="915.40" x2="137.30" y2="929.30" stroke="#1a1a1a" stroke-width="2" />
<text transform="translate(135.40 961.50) scale(0.94 1)" font-size="22" text-anchor="middle" font-weight="normal" fill="#101030" stroke="#101030" stroke-width="0.35" >-4</text>
<line x1="233.10" y1="915.40" x2="233.10" y2="929.30" stroke="#1a1a1a" stroke-width="2" />
<text transform="translate(231.20 961.50) scale(0.94 1)" font-size="22" text-anchor="middle" font-weight="normal" fill="#101030" stroke="#101030" stroke-width="0.35" >-2</text>
<line x1="328.90" y1="915.40" x2="328.90" y2="929.30" stroke="#1a1a1a" stroke-width="2" />
<text transform="translate(327.60 961.50) scale(0.94 1)" font-size="22" text-anchor="middle" font-weight="normal" fill="#101030" stroke="#101030" stroke-width="0.35" >0</text>
<line x1="424.70" y1="915.40" x2="424.70" y2="929.30" stroke="#1a1a1a" stroke-width="2" />
<text transform="translate(423.40 961.50) scale(0.94 1)" font-size="22" text-anchor="middle" font-weight="normal" fill="#101030" stroke="#101030" stroke-width="0.35" >2</text>
<line x1="520.50" y1="915.40" x2="520.50" y2="929.30" stroke="#1a1a1a" stroke-width="2" />
<text transform="translate(519.20 961.50) scale(0.94 1)" font-size="22" text-anchor="middle" font-weight="normal" fill="#101030" stroke="#101030" stroke-width="0.35" >4</text>
<text transform="translate(328.50 1016.50)" font-size="40" text-anchor="middle" font-weight="normal" fill="#111122" stroke="#111122" stroke-width="0.35" >q</text>
<text transform="translate(26.20 782.60) rotate(-90)" font-size="36" text-anchor="start" font-weight="normal" fill="#111122" stroke="#111122" stroke-width="0.35" >τ</text>
<text transform="translate(32.50 766.50) rotate(-90)" font-size="27" text-anchor="start" font-weight="normal" fill="#111122" stroke="#111122" stroke-width="0.35" >q</text>
<line x1="789.50" y1="620.00" x2="789.50" y2="915.50" stroke="#1c1c74" stroke-width="2" stroke-dasharray="2.9 3.35"/>
<line x1="849.80" y1="620.00" x2="849.80" y2="915.50" stroke="#1c1c74" stroke-width="2" stroke-dasharray="2.9 3.35"/>
<line x1="911.20" y1="620.00" x2="911.20" y2="915.50" stroke="#1c1c74" stroke-width="2" stroke-dasharray="2.9 3.35"/>
<line x1="971.60" y1="620.00" x2="971.60" y2="915.50" stroke="#1c1c74" stroke-width="2" stroke-dasharray="2.9 3.35"/>
<line x1="1031.80" y1="620.00" x2="1031.80" y2="915.50" stroke="#1c1c74" stroke-width="2" stroke-dasharray="2.9 3.35"/>
<line x1="1092.50" y1="620.00" x2="1092.50" y2="915.50" stroke="#1c1c74" stroke-width="2" stroke-dasharray="2.9 3.35"/>
<line x1="1153.50" y1="620.00" x2="1153.50" y2="915.50" stroke="#1c1c74" stroke-width="2" stroke-dasharray="2.9 3.35"/>
<line x1="786.70" y1="633.00" x2="1200.00" y2="633.00" stroke="#1c1c74" stroke-width="2" stroke-dasharray="2.9 3.35"/>
<line x1="786.70" y1="683.50" x2="1200.00" y2="683.50" stroke="#1c1c74" stroke-width="2" stroke-dasharray="2.9 3.35"/>
<line x1="786.70" y1="733.50" x2="1200.00" y2="733.50" stroke="#1c1c74" stroke-width="2" stroke-dasharray="2.9 3.35"/>
<line x1="786.70" y1="782.70" x2="1200.00" y2="782.70" stroke="#1c1c74" stroke-width="2" stroke-dasharray="2.9 3.35"/>
<line x1="786.70" y1="832.70" x2="1200.00" y2="832.70" stroke="#1c1c74" stroke-width="2" stroke-dasharray="2.9 3.35"/>
<line x1="786.70" y1="883.00" x2="1200.00" y2="883.00" stroke="#1c1c74" stroke-width="2" stroke-dasharray="2.9 3.35"/>
<path d="M797.15 859.50L801.50 855.15L805.85 859.50L801.50 863.85Z" fill="#000" stroke="#000" stroke-width="1.5" stroke-linejoin="round"/>
<path d="M836.15 763.50L840.50 759.15L844.85 763.50L840.50 767.85Z" fill="#000" stroke="#000" stroke-width="1.5" stroke-linejoin="round"/>
<path d="M884.15 681.00L888.50 676.65L892.85 681.00L888.50 685.35Z" fill="#000" stroke="#000" stroke-width="1.5" stroke-linejoin="round"/>
<path d="M944.65 632.00L949.00 627.65L953.35 632.00L949.00 636.35Z" fill="#000" stroke="#000" stroke-width="1.5" stroke-linejoin="round"/>
<path d="M1009.15 632.00L1013.50 627.65L1017.85 632.00L1013.50 636.35Z" fill="#000" stroke="#000" stroke-width="1.5" stroke-linejoin="round"/>
<path d="M1073.15 686.00L1077.50 681.65L1081.85 686.00L1077.50 690.35Z" fill="#000" stroke="#000" stroke-width="1.5" stroke-linejoin="round"/>
<path d="M1132.15 781.50L1136.50 777.15L1140.85 781.50L1136.50 785.85Z" fill="#000" stroke="#000" stroke-width="1.5" stroke-linejoin="round"/>
<path d="M1180.65 903.50L1185.00 899.15L1189.35 903.50L1185.00 907.85Z" fill="#000" stroke="#000" stroke-width="1.5" stroke-linejoin="round"/>
<polyline points="786.0,908.0 790.1,895.1 794.1,882.7 798.2,870.6 802.2,858.8 806.3,847.4 810.3,836.4 814.4,825.7 818.4,815.3 822.5,805.3 826.5,795.5 830.6,786.1 834.7,777.1 838.7,768.3 842.8,759.8 846.8,751.6 850.9,743.8 854.9,736.2 859.0,728.9 863.0,721.9 867.1,715.1 871.2,708.7 875.2,702.5 879.3,696.6 883.3,690.9 887.4,685.5 891.4,680.4 895.5,675.5 899.5,670.8 903.6,666.4 907.6,662.3 911.7,658.4 915.8,654.7 919.8,651.3 923.9,648.1 927.9,645.1 932.0,642.4 936.0,639.9 940.1,637.6 944.1,635.5 948.2,633.7 952.3,632.0 956.3,630.6 960.4,629.4 964.4,628.4 968.5,627.7 972.5,627.1 976.6,626.7 980.6,626.6 984.7,626.7 988.8,626.9 992.8,627.4 996.9,628.1 1000.9,629.0 1005.0,630.1 1009.0,631.3 1013.1,632.8 1017.1,634.5 1021.2,636.5 1025.2,638.6 1029.3,640.9 1033.4,643.4 1037.4,646.1 1041.5,649.1 1045.5,652.2 1049.6,655.5 1053.6,659.1 1057.7,662.8 1061.7,666.8 1065.8,671.0 1069.8,675.4 1073.9,680.0 1078.0,684.8 1082.0,689.9 1086.1,695.1 1090.1,700.6 1094.2,706.3 1098.2,712.3 1102.3,718.4 1106.3,724.8 1110.4,731.4 1114.5,738.3 1118.5,745.4 1122.6,752.7 1126.6,760.3 1130.7,768.1 1134.7,776.2 1138.8,784.5 1142.8,793.1 1146.9,801.9 1151.0,811.0 1155.0,820.4 1159.1,830.0 1163.1,839.9 1167.2,850.1 1171.2,860.6 1175.3,871.3 1179.3,882.4 1183.4,893.7 1187.4,905.3 1191.5,917.3" fill="none" stroke="#fa0008" stroke-width="2.7"/>
<line x1="786.80" y1="632.00" x2="786.80" y2="884.00" stroke="#1a1a1a" stroke-width="2" />
<line x1="772.50" y1="633.00" x2="786.80" y2="633.00" stroke="#1a1a1a" stroke-width="2" />
<line x1="772.50" y1="683.50" x2="786.80" y2="683.50" stroke="#1a1a1a" stroke-width="2" />
<text transform="translate(757.00 683.50) rotate(-90) scale(0.94 1)" font-size="22" text-anchor="middle" font-weight="normal" fill="#101030" stroke="#101030" stroke-width="0.35" >0.95</text>
<line x1="772.50" y1="733.50" x2="786.80" y2="733.50" stroke="#1a1a1a" stroke-width="2" />
<line x1="772.50" y1="782.70" x2="786.80" y2="782.70" stroke="#1a1a1a" stroke-width="2" />
<text transform="translate(757.00 782.70) rotate(-90) scale(0.94 1)" font-size="22" text-anchor="middle" font-weight="normal" fill="#101030" stroke="#101030" stroke-width="0.35" >0.85</text>
<line x1="772.50" y1="832.70" x2="786.80" y2="832.70" stroke="#1a1a1a" stroke-width="2" />
<line x1="772.50" y1="883.00" x2="786.80" y2="883.00" stroke="#1a1a1a" stroke-width="2" />
<text transform="translate(757.00 883.00) rotate(-90) scale(0.94 1)" font-size="22" text-anchor="middle" font-weight="normal" fill="#101030" stroke="#101030" stroke-width="0.35" >0.75</text>
<line x1="788.50" y1="915.60" x2="1154.50" y2="915.60" stroke="#1a1a1a" stroke-width="2" />
<line x1="789.50" y1="915.60" x2="789.50" y2="929.00" stroke="#1a1a1a" stroke-width="2" />
<text transform="translate(787.60 961.50) scale(0.925 1)" font-size="22" text-anchor="middle" font-weight="normal" fill="#101030" stroke="#101030" stroke-width="0.35" >0.40</text>
<line x1="849.80" y1="915.60" x2="849.80" y2="929.00" stroke="#1a1a1a" stroke-width="2" />
<text transform="translate(847.90 961.50) scale(0.925 1)" font-size="22" text-anchor="middle" font-weight="normal" fill="#101030" stroke="#101030" stroke-width="0.35" >0.45</text>
<line x1="911.20" y1="915.60" x2="911.20" y2="929.00" stroke="#1a1a1a" stroke-width="2" />
<text transform="translate(909.30 961.50) scale(0.925 1)" font-size="22" text-anchor="middle" font-weight="normal" fill="#101030" stroke="#101030" stroke-width="0.35" >0.50</text>
<line x1="971.60" y1="915.60" x2="971.60" y2="929.00" stroke="#1a1a1a" stroke-width="2" />
<text transform="translate(969.70 961.50) scale(0.925 1)" font-size="22" text-anchor="middle" font-weight="normal" fill="#101030" stroke="#101030" stroke-width="0.35" >0.55</text>
<line x1="1031.80" y1="915.60" x2="1031.80" y2="929.00" stroke="#1a1a1a" stroke-width="2" />
<text transform="translate(1029.90 961.50) scale(0.925 1)" font-size="22" text-anchor="middle" font-weight="normal" fill="#101030" stroke="#101030" stroke-width="0.35" >0.60</text>
<line x1="1092.50" y1="915.60" x2="1092.50" y2="929.00" stroke="#1a1a1a" stroke-width="2" />
<text transform="translate(1090.60 961.50) scale(0.925 1)" font-size="22" text-anchor="middle" font-weight="normal" fill="#101030" stroke="#101030" stroke-width="0.35" >0.65</text>
<line x1="1153.50" y1="915.60" x2="1153.50" y2="929.00" stroke="#1a1a1a" stroke-width="2" />
<text transform="translate(1151.60 961.50) scale(0.925 1)" font-size="22" text-anchor="middle" font-weight="normal" fill="#101030" stroke="#101030" stroke-width="0.35" >0.70</text>
<text transform="translate(1000.00 1016.00) scale(1.08 1)" font-size="40" text-anchor="middle" font-weight="normal" fill="#111122" stroke="#111122" stroke-width="0.35" >α</text>
<text transform="translate(695.70 814.30) rotate(-90)" font-size="38" text-anchor="start" font-weight="normal" fill="#111122" stroke="#111122" stroke-width="0.35" >f</text>
<text transform="translate(695.70 790.90) rotate(-90)" font-size="38" text-anchor="start" font-weight="normal" fill="#111122" stroke="#111122" stroke-width="0.35" >(</text>
<text transform="translate(695.70 768.50) rotate(-90)" font-size="38" text-anchor="start" font-weight="normal" fill="#111122" stroke="#111122" stroke-width="0.35" >α</text>
<text transform="translate(695.70 733.80) rotate(-90)" font-size="38" text-anchor="start" font-weight="normal" fill="#111122" stroke="#111122" stroke-width="0.35" >)</text>
</g>
</svg>
</body></html>
